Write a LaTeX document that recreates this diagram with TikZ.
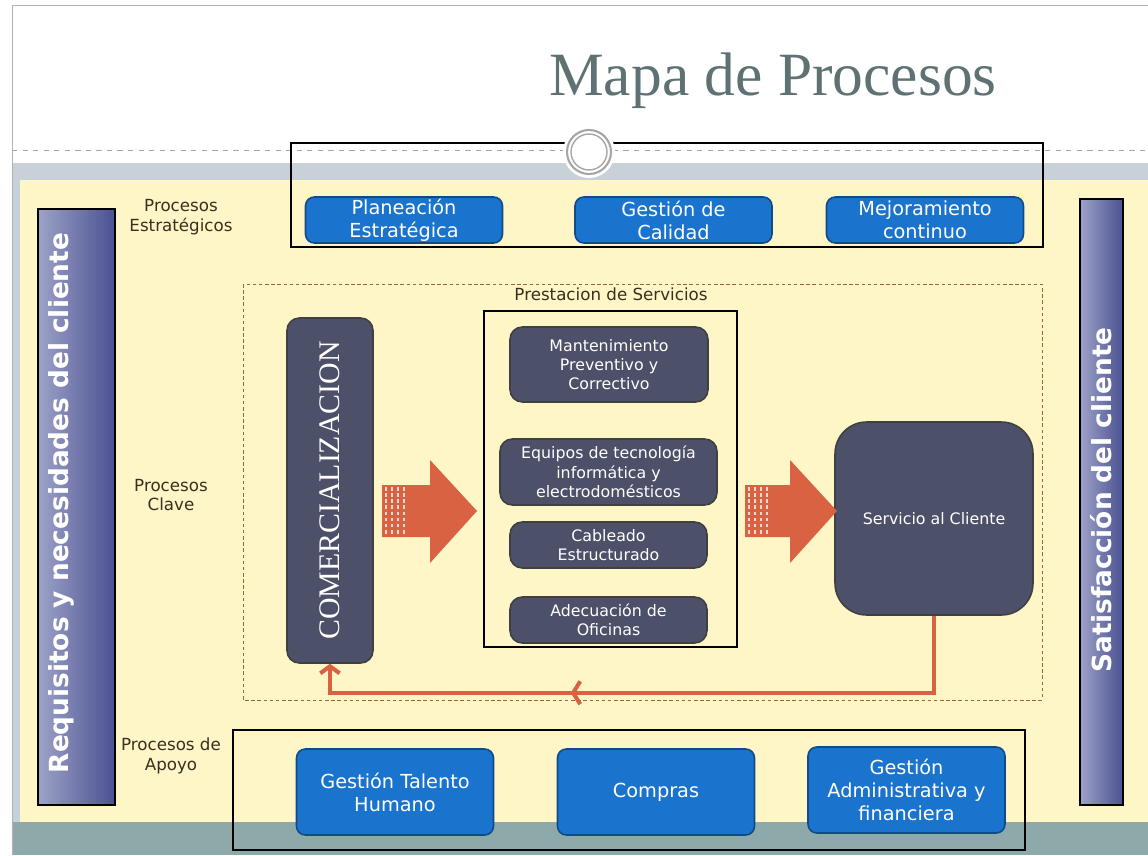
\documentclass[tikz,border=0pt]{standalone}
\usepackage{fontspec}
\setmainfont{DejaVu Sans}
\newfontfamily\serifa{Liberation Serif}
\usetikzlibrary{arrows.meta,decorations.markings}

\definecolor{crema}{RGB}{255,246,200}
\definecolor{franja}{RGB}{200,209,215}
\definecolor{verdoso}{RGB}{141,169,169}
\definecolor{lateral}{RGB}{198,210,218}
\definecolor{azul}{RGB}{26,115,204}
\definecolor{azuloscuro}{RGB}{16,74,136}
\definecolor{pizarra}{RGB}{76,80,105}
\definecolor{coral}{RGB}{216,98,66}
\definecolor{titulo}{RGB}{94,114,116}
\definecolor{tinta}{RGB}{60,45,30}

\begin{document}
\begin{tikzpicture}[x=0.02cm, y=-0.02cm,
  boton/.style={draw=azuloscuro, line width=0.9pt, fill=azul, rounded corners=5pt, text=white, align=center, inner sep=0pt, minimum width=3.94cm, font=\fontsize{11}{13}\selectfont},
  caja/.style={draw=black!75, line width=0.9pt, fill=pizarra, rounded corners=7pt, text=white, align=center, inner sep=0pt, minimum width=3.94cm, font=\fontsize{9}{11}\selectfont},
  barra/.style={draw=black, line width=0.8pt, left color={rgb,255:red,157;green,162;blue,200}, right color={rgb,255:red,74;green,81;blue,144}, inner sep=0pt},
  textobarra/.style={rotate=90, text=white, font=\bfseries\fontsize{15}{18}\selectfont},
  etiqueta/.style={text=tinta, align=center, font=\fontsize{9.5}{11}\selectfont},
  retorno/.style={draw=coral, line width=2.3pt, -{Straight Barb[length=4pt,width=11pt]}}
]
\useasboundingbox (0,0) rectangle (1148,855);
% fondo
\fill[white] (0,0) rectangle (1148,855);
\fill[franja] (12,163) rectangle (1148,182);
\fill[crema] (20,180) rectangle (1148,822);
\fill[lateral] (12,180) rectangle (20,855);
\fill[verdoso] (12,822) rectangle (1148,855);
\draw[gray!60] (12,855) -- (12,5) -- (1148,5);
\draw[gray!70, dashed] (12,150) -- (1148,150);

% marcos
\draw[line width=0.8pt] (291,143) rectangle (1043,247);
\draw[line width=0.8pt] (233,730) rectangle (1025,850);
\draw[brown!80!black, dashed, dash pattern=on 2pt off 1.5pt] (243,284) rectangle (1042,700);
\draw[line width=0.8pt] (484,311) rectangle (737,647);

% circulo
\fill[white] (589,152) circle (26);
\draw[gray!70, line width=1.2pt] (589,152) circle (22);
\draw[gray!70, line width=0.8pt] (589,152) circle (18);

\node[text=titulo, font=\serifa\fontsize{35}{40}\selectfont, anchor=base] (titulo) at (773,95) {Mapa de Procesos};

% etiquetas
\node[etiqueta] (estrat) at (181,217) {Procesos\\Estratégicos};
\node[etiqueta] (clave) at (171,495) {Procesos\\Clave};
\node[etiqueta] (apoyo) at (171,756) {Procesos de\\Apoyo};
\node[etiqueta] (prestacion) at (611,294) {Prestacion de Servicios};

% barras
\node[barra, minimum width=1.54cm, minimum height=11.92cm] (requisitos) at (76.5,507) {};
\node[textobarra] (requisitostxt) at (61,503) {Requisitos y necesidades del cliente};
\node[barra, minimum width=0.86cm, minimum height=12.12cm] (satisfaccion) at (1101.5,502) {};
\node[textobarra] (satisfacciontxt) at (1101,500) {Satisfacción del cliente};

% estrategicos
\node[boton, minimum height=0.92cm] (planeacion) at (404,220) {Planeación\\Estratégica};
\node[boton, minimum height=0.92cm] (calidad) at (673.5,220) {Gestión de\\Calidad};
\node[boton, minimum height=0.92cm] (mejora) at (925,220) {Mejoramiento\\continuo};

% apoyo
\node[boton, minimum height=1.72cm] (talento) at (395,792) {Gestión Talento\\Humano};
\node[boton, minimum height=1.72cm] (compras) at (656,792) {Compras};
\node[boton, minimum height=1.72cm] (admin) at (906.5,790) {Gestión\\Administrativa y\\financiera};

% clave
\node[caja, minimum width=1.72cm, minimum height=6.9cm] (comer) at (330,490.5) {};
\node[rotate=90, text=white, font=\serifa\fontsize{17}{20}\selectfont] (comertxt) at (comer.center) {COMERCIALIZACION};
\node[caja, minimum width=3.96cm, minimum height=1.5cm] (mant) at (609,364.5) {Mantenimiento\\Preventivo y\\Correctivo};
\node[caja, minimum width=4.34cm, minimum height=1.32cm] (equipos) at (608.5,472) {Equipos de tecnología\\informática y\\electrodomésticos};
\node[caja, minimum height=0.92cm] (cableado) at (608.5,545) {Cableado\\Estructurado};
\node[caja, minimum height=0.92cm] (adecuacion) at (608.5,620) {Adecuación de\\Oficinas};
\node[caja, rounded corners=18pt, minimum width=3.96cm, minimum height=3.86cm] (servicio) at (934,518.5) {Servicio al Cliente};

% flechas
\fill[coral] (382,485) -- (430,485) -- (430,460) -- (477,511) -- (430,563) -- (430,537) -- (382,537) -- cycle;
\fill[coral] (745,485) -- (790,485) -- (790,460) -- (837,511) -- (790,563) -- (790,537) -- (745,537) -- cycle;
\foreach \x in {386,392,398,404} {
  \draw[white!75!coral, line width=0.6pt, dash pattern=on 2pt off 1.5pt] (\x,487) -- (\x,535);
  \draw[white!75!coral, line width=0.6pt, dash pattern=on 2pt off 1.5pt] (\x+363,487) -- (\x+363,535);
}

\draw[retorno, postaction={decorate, decoration={markings, mark=at position 0.62 with {\arrow{Straight Barb[length=4pt,width=13pt]}}}}]
  (servicio.south) -- ++(0,77) -| (comer.south);
\end{tikzpicture}
\end{document}
